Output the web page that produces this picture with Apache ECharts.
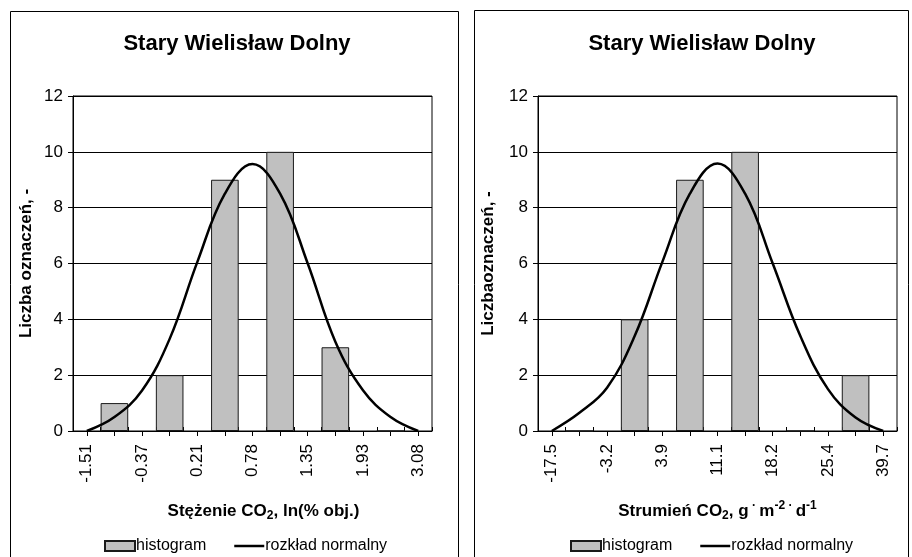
<!DOCTYPE html>
<html>
<head>
<meta charset="utf-8">
<script src="https://cdn.jsdelivr.net/npm/echarts@6/dist/echarts.min.js"></script>
<style>
html,body{margin:0;padding:0;background:#fff;}
#main{width:912px;height:557px;}
</style>
</head>
<body>
<div id="main"></div>
<script>
// ---- data ----
const chartTitle = 'Stary Wielisław Dolny';
const xTickLabelsLeft = ['-1.51', '-0.37', '0.21', '0.78', '1.35', '1.93', '3.08'];
const xTickLabelsRight = ['-17.5', '-3.2', '3.9', '11.1', '18.2', '25.4', '39.7'];
// histogram counts per class (one class between consecutive labelled ticks)
const histLeft = [1, 2, 9, 10, 3, 0];
const histRight = [0, 4, 9, 10, 0, 2];
// fitted normal curve, read at every tick (labelled and unlabelled)
const normLeft = [0, 0.5, 1.45, 3.3, 6.05, 8.5, 9.56, 8.5, 6.0, 3.2, 1.46, 0.5, 0];
const normRight = [0, 0.65, 1.55, 3.4, 6.05, 8.5, 9.58, 8.5, 6.0, 3.4, 1.5, 0.48, 0];
const yTicks = [0, 2, 4, 6, 8, 10, 12];
const yTitleLeft = 'Liczba oznaczeń, -';
const yTitleRight = 'Liczbaoznaczeń, -';
const legendNames = ['histogram', 'rozkład normalny'];

// ---- build category lists (labelled ticks alternate with unlabelled ones) ----
function cats(labels) {
  const out = [];
  labels.forEach((l, i) => { out.push(l); if (i < labels.length - 1) out.push(''); });
  return out;
}
function barData(h) {
  const out = [];
  for (let i = 0; i < 13; i++) out.push((i % 2 === 1) ? h[(i - 1) / 2] : '-');
  return out;
}
const catsLeft = cats(xTickLabelsLeft);
const catsRight = cats(xTickLabelsRight);

const FONT = 'Liberation Sans, Arial, sans-serif';
const black = '#000';

function gridRect(left) {
  return { left: left, top: 96, width: 359, height: 335 };
}

function mainX(gi, data, name, rich, namePad) {
  return {
    gridIndex: gi, type: 'category', data: data, boundaryGap: true,
    axisLine: { show: true, lineStyle: { color: black, width: 1 } },
    axisTick: { show: true, alignWithLabel: true, interval: 0, length: 5, lineStyle: { color: black } },
    axisLabel: { interval: 0, rotate: 90, fontSize: 17, color: black, fontFamily: FONT, margin: 13 },
    splitLine: { show: false },
    name: name, nameLocation: 'middle', nameGap: 69,
    nameTextStyle: { color: black, fontFamily: FONT, rich: rich, padding: namePad }
  };
}
function barX(gi, data) {
  return {
    gridIndex: gi, type: 'category', data: data, boundaryGap: true,
    axisLine: { show: false },
    axisTick: { show: true, inside: true, interval: 0, length: 4, lineStyle: { color: black } },
    axisLabel: { show: false }, splitLine: { show: false }
  };
}
function mainY(gi, name, gap) {
  return {
    gridIndex: gi, type: 'value', min: yTicks[0], max: yTicks[yTicks.length - 1], interval: 2,
    axisLine: { show: true, lineStyle: { color: black } },
    axisTick: { show: true, length: 5, lineStyle: { color: black } },
    axisLabel: { fontSize: 17, color: black, fontFamily: FONT, margin: 10 },
    splitLine: { show: true, lineStyle: { color: black, width: 1 } },
    name: name, nameLocation: 'middle', nameGap: gap,
    nameTextStyle: { fontSize: 17, fontWeight: 'bold', color: black, fontFamily: FONT }
  };
}
function hiddenY(gi) {
  return { gridIndex: gi, type: 'value', min: 0, max: 12, show: false };
}

const richStyles = {
  b: { fontSize: 17, fontWeight: 'bold', color: black, fontFamily: FONT, lineHeight: 22 },
  sub: { fontSize: 12, fontWeight: 'bold', color: black, fontFamily: FONT, lineHeight: 10, verticalAlign: 'bottom' },
  sup: { fontSize: 12, fontWeight: 'bold', color: black, fontFamily: FONT, lineHeight: 12, verticalAlign: 'top' }
};
const xNameLeft = '{b|Stężenie CO}{sub|2}{b|, ln(% obj.)}';
const xNameRight = '{b|Strumień CO}{sub|2}{b|, g}{sup| · }{b|m}{sup|-2}{sup| · }{b|d}{sup|-1}';

function barSeries(xi, yi, h) {
  return {
    type: 'bar', name: legendNames[0], xAxisIndex: xi, yAxisIndex: yi,
    data: barData(h), barWidth: '100%',
    itemStyle: { color: '#c0c0c0', borderColor: '#1a1a1a', borderWidth: 1 },
    z: 2
  };
}
function lineSeries(xi, yi, d) {
  return {
    type: 'line', name: legendNames[1], xAxisIndex: xi, yAxisIndex: yi,
    data: d, smooth: 0.4, symbol: 'none', showSymbol: false,
    lineStyle: { color: black, width: 2.5 }, itemStyle: { color: black },
    z: 3
  };
}
function legend(left) {
  return {
    left: left, top: 538, orient: 'horizontal', padding: 0, itemWidth: 30, itemHeight: 10, itemGap: 28,
    data: [
      { name: legendNames[0], icon: 'rect' },
      { name: legendNames[1], icon: 'path://M0,0 L36,0 L36,3 L0,3 Z', itemStyle: { color: black, borderWidth: 0 } }
    ],
    textStyle: { fontSize: 16, color: black, fontFamily: FONT, padding: [0, 0, 0, -4] },
    selectedMode: false
  };
}

const option = {
  backgroundColor: '#fff',
  animation: false,
  title: [
    { text: chartTitle, left: 237, top: 33, textAlign: 'center', padding: 0,
      textStyle: { fontSize: 22, fontWeight: 'bold', color: black, fontFamily: FONT } },
    { text: chartTitle, left: 702, top: 33, textAlign: 'center', padding: 0,
      textStyle: { fontSize: 22, fontWeight: 'bold', color: black, fontFamily: FONT } }
  ],
  graphic: [
    { type: 'rect', shape: { x: 10.5, y: 11.5, width: 448, height: 560 }, style: { fill: 'none', stroke: '#000', lineWidth: 1 }, z: -1 },
    { type: 'rect', shape: { x: 474.5, y: 10.5, width: 434, height: 560 }, style: { fill: 'none', stroke: '#000', lineWidth: 1 }, z: -1 }
  ],
  legend: [legend(104), legend(570)],
  grid: [
    Object.assign({ show: true, borderColor: black, borderWidth: 1, backgroundColor: '#fff' }, gridRect(73)),
    Object.assign({ show: false }, gridRect(73)),
    Object.assign({ show: true, borderColor: black, borderWidth: 1, backgroundColor: '#fff' }, gridRect(538)),
    Object.assign({ show: false }, gridRect(538))
  ],
  xAxis: [
    mainX(0, catsLeft, xNameLeft, richStyles, [0, 0, 0, 22]),
    barX(1, catsLeft),
    mainX(2, catsRight, xNameRight, richStyles, [0, 0, 0, 0]),
    barX(3, catsRight)
  ],
  yAxis: [
    mainY(0, yTitleLeft, 38),
    hiddenY(1),
    mainY(2, yTitleRight, 41),
    hiddenY(3)
  ],
  series: [
    barSeries(1, 1, histLeft),
    lineSeries(0, 0, normLeft),
    barSeries(3, 3, histRight),
    lineSeries(2, 2, normRight)
  ]
};

const chart = echarts.init(document.getElementById('main'), null, { renderer: 'canvas' });
chart.setOption(option);
</script>
</body>
</html>
